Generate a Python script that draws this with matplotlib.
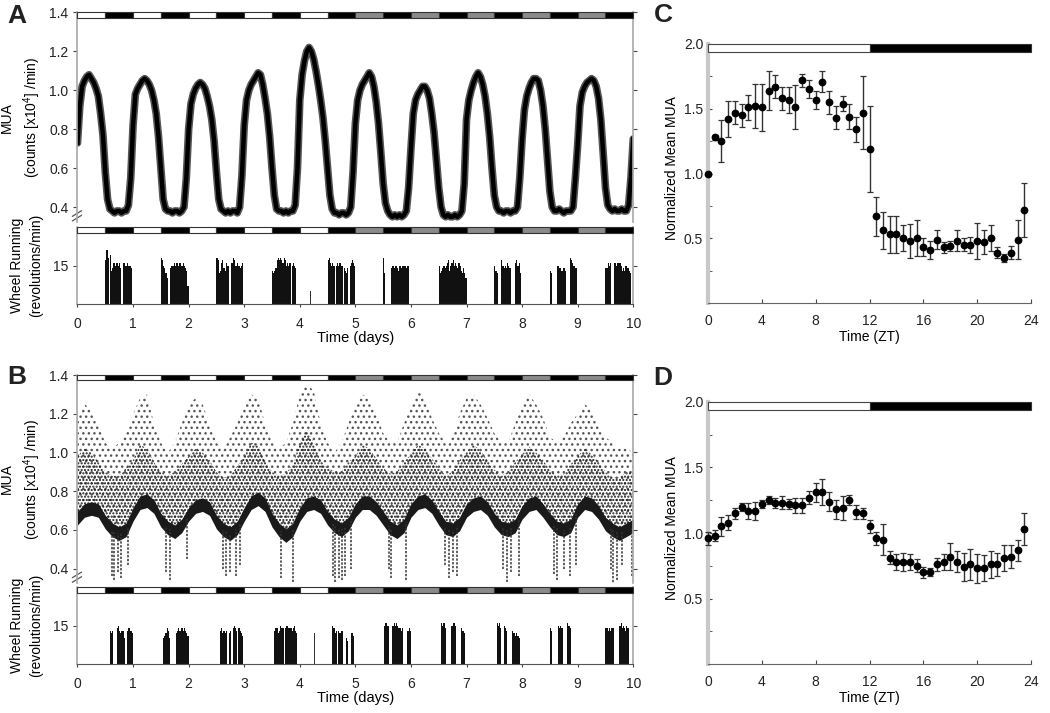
import numpy as np
import matplotlib.pyplot as plt
from matplotlib.patches import Rectangle

plt.rcParams['font.family'] = ['Liberation Sans', 'DejaVu Sans']
plt.rcParams['mathtext.default'] = 'regular'
plt.rcParams['text.color'] = '#222222'
plt.rcParams['xtick.color'] = '#444444'
plt.rcParams['ytick.color'] = '#444444'
plt.rcParams['xtick.labelcolor'] = '#222222'
plt.rcParams['ytick.labelcolor'] = '#222222'
plt.rcParams['hatch.linewidth'] = 1.0

# ---------------- data ----------------
# light phase colour of each day (white = LD, grey = subjective day in DD)
light_cols = ['white'] * 5 + ['#8a8a8a'] * 5

# A: hourly MUA (x10^4 counts/min), ZT0..ZT23 of each day
mua_a = [
    [0.73, 0.92, 1.02, 1.05, 1.07, 1.08, 1.06, 1.04, 1.01, 0.97, 0.88, 0.77, 0.58, 0.44, 0.39, 0.38, 0.37, 0.38, 0.38, 0.37, 0.38, 0.38, 0.41, 0.55],
    [0.82, 0.98, 1.01, 1.03, 1.05, 1.06, 1.05, 1.03, 1.00, 0.95, 0.88, 0.76, 0.60, 0.44, 0.39, 0.38, 0.38, 0.37, 0.38, 0.38, 0.37, 0.38, 0.40, 0.55],
    [0.80, 0.93, 0.98, 1.01, 1.03, 1.04, 1.03, 1.01, 0.97, 0.92, 0.85, 0.74, 0.58, 0.44, 0.39, 0.38, 0.37, 0.38, 0.37, 0.38, 0.38, 0.37, 0.40, 0.56],
    [0.82, 0.95, 1.00, 1.03, 1.05, 1.07, 1.09, 1.08, 1.03, 0.96, 0.88, 0.76, 0.60, 0.46, 0.39, 0.38, 0.38, 0.37, 0.38, 0.37, 0.38, 0.38, 0.41, 0.60],
    [0.95, 1.08, 1.15, 1.20, 1.22, 1.20, 1.16, 1.10, 1.03, 0.95, 0.86, 0.74, 0.60, 0.46, 0.39, 0.37, 0.37, 0.36, 0.37, 0.37, 0.36, 0.37, 0.40, 0.58],
    [0.83, 0.95, 1.00, 1.03, 1.05, 1.07, 1.09, 1.07, 1.02, 0.94, 0.83, 0.68, 0.52, 0.42, 0.38, 0.36, 0.35, 0.36, 0.35, 0.36, 0.35, 0.36, 0.38, 0.50],
    [0.70, 0.88, 0.95, 0.98, 1.00, 1.02, 1.02, 1.00, 0.96, 0.88, 0.78, 0.64, 0.50, 0.40, 0.36, 0.35, 0.36, 0.35, 0.35, 0.36, 0.35, 0.36, 0.38, 0.52],
    [0.85, 0.95, 1.00, 1.04, 1.07, 1.09, 1.07, 1.03, 0.97, 0.88, 0.76, 0.60, 0.46, 0.40, 0.38, 0.38, 0.37, 0.38, 0.38, 0.37, 0.38, 0.38, 0.40, 0.55],
    [0.75, 0.90, 0.97, 1.01, 1.04, 1.06, 1.06, 1.05, 1.00, 0.92, 0.80, 0.64, 0.48, 0.40, 0.38, 0.38, 0.39, 0.38, 0.37, 0.38, 0.38, 0.38, 0.40, 0.55],
    [0.72, 0.92, 0.99, 1.02, 1.04, 1.05, 1.06, 1.05, 1.02, 0.96, 0.85, 0.68, 0.50, 0.41, 0.39, 0.38, 0.39, 0.38, 0.38, 0.39, 0.38, 0.38, 0.41, 0.55],
]
mua_a_end = 0.75

# A: wheel running (rev/min), 30-min bins of each night (n+0.5 .. n+1)
wheel_a = [
    [17, 21, 18, 0, 19, 13, 14, 16, 15, 16, 16, 15, 16, 14, 0, 16, 16, 15, 15, 16, 15, 15, 14, 0],
    [18, 17, 15, 14, 12, 10, 0, 0, 14, 15, 15, 16, 15, 16, 16, 15, 16, 15, 15, 16, 15, 14, 13, 7],
    [18, 17, 12, 13, 16, 17, 14, 13, 16, 15, 15, 0, 0, 16, 18, 17, 15, 15, 16, 15, 14, 15, 16, 0],
    [13, 12, 13, 14, 17, 18, 17, 18, 17, 16, 18, 17, 15, 16, 15, 16, 0, 15, 16, 15, 14, 0, 0, 0],
    [17, 18, 16, 15, 16, 15, 0, 15, 16, 15, 16, 16, 15, 0, 14, 13, 12, 14, 0, 15, 16, 17, 16, 15],
    [18, 12, 0, 0, 0, 0, 0, 14, 15, 14, 15, 15, 14, 13, 15, 14, 15, 15, 15, 15, 14, 15, 0, 0],
    [15, 12, 13, 14, 15, 14, 15, 16, 17, 13, 15, 16, 17, 15, 16, 15, 14, 16, 15, 13, 12, 14, 12, 10],
    [15, 13, 12, 0, 0, 0, 17, 15, 14, 15, 14, 16, 15, 14, 0, 0, 0, 0, 16, 17, 15, 16, 12, 0],
    [13, 12, 0, 0, 0, 0, 15, 15, 14, 14, 13, 14, 14, 13, 0, 0, 0, 18, 17, 16, 15, 15, 14, 0],
    [14, 14, 16, 15, 16, 0, 0, 16, 16, 15, 16, 16, 16, 15, 13, 14, 13, 15, 15, 14, 13, 12, 0, 0],
]
wheel_a_extra_t = [3.05, 4.06, 4.19]
wheel_a_extra_h = [3, 4, 5]

# B: MUA cloud every 3 h (ZT0, 3, ... 21): dense band, denser cloud top, sparse top
mua_b_band = [
    [0.66, 0.70, 0.71, 0.70, 0.64, 0.60, 0.58, 0.60],
    [0.68, 0.74, 0.75, 0.72, 0.65, 0.61, 0.59, 0.62],
    [0.68, 0.72, 0.73, 0.71, 0.64, 0.60, 0.58, 0.61],
    [0.68, 0.74, 0.76, 0.73, 0.65, 0.60, 0.57, 0.60],
    [0.68, 0.73, 0.74, 0.72, 0.66, 0.62, 0.60, 0.63],
    [0.70, 0.74, 0.74, 0.71, 0.66, 0.61, 0.59, 0.62],
    [0.70, 0.74, 0.75, 0.72, 0.66, 0.61, 0.60, 0.63],
    [0.70, 0.73, 0.74, 0.71, 0.65, 0.61, 0.60, 0.62],
    [0.69, 0.73, 0.74, 0.70, 0.65, 0.61, 0.60, 0.62],
    [0.70, 0.74, 0.73, 0.69, 0.63, 0.60, 0.58, 0.60],
]
mua_b_band_end = 0.62
mua_b_mid = [
    [0.98, 1.02, 1.00, 0.95, 0.90, 0.88, 0.88, 0.92],
    [0.96, 1.04, 1.02, 0.95, 0.90, 0.88, 0.90, 0.94],
    [0.98, 1.02, 1.00, 0.96, 0.90, 0.87, 0.88, 0.93],
    [0.98, 1.05, 1.04, 0.96, 0.90, 0.88, 0.89, 0.94],
    [1.05, 1.12, 1.05, 0.96, 0.92, 0.90, 0.90, 0.95],
    [0.98, 1.04, 1.02, 0.97, 0.92, 0.89, 0.90, 0.95],
    [0.99, 1.04, 1.02, 0.97, 0.92, 0.88, 0.90, 0.96],
    [1.00, 1.04, 1.01, 0.96, 0.91, 0.88, 0.90, 0.95],
    [0.99, 1.03, 1.00, 0.96, 0.91, 0.88, 0.89, 0.94],
    [0.98, 1.02, 0.99, 0.95, 0.90, 0.87, 0.87, 0.90],
]
mua_b_mid_end = 0.9
mua_b_top = [
    [1.20, 1.25, 1.22, 1.15, 1.05, 1.02, 1.05, 1.10],
    [1.20, 1.28, 1.30, 1.15, 1.05, 1.00, 1.05, 1.15],
    [1.25, 1.28, 1.25, 1.15, 1.05, 1.02, 1.08, 1.15],
    [1.25, 1.30, 1.28, 1.15, 1.05, 1.02, 1.05, 1.15],
    [1.30, 1.35, 1.32, 1.15, 1.05, 1.00, 1.05, 1.15],
    [1.25, 1.30, 1.28, 1.20, 1.10, 1.05, 1.05, 1.15],
    [1.25, 1.32, 1.28, 1.18, 1.10, 1.05, 1.08, 1.20],
    [1.28, 1.30, 1.25, 1.18, 1.10, 1.05, 1.05, 1.15],
    [1.25, 1.30, 1.25, 1.18, 1.08, 1.05, 1.08, 1.15],
    [1.20, 1.25, 1.22, 1.15, 1.08, 1.05, 1.02, 1.02],
]
mua_b_top_end = 1.0
# B: downward streaks of MUA during running (time in days, lowest value)
dip_b_t = [0.62, 0.66, 0.72, 0.78, 0.90, 1.60, 1.67, 1.97, 2.62, 2.67, 2.75, 2.85, 2.92,
           3.66, 3.88, 4.60, 4.64, 4.70, 4.76, 4.82, 4.92, 5.60, 5.65, 5.91, 6.62, 6.68,
           6.75, 6.83, 7.66, 7.72, 7.80, 7.94, 8.58, 8.62, 8.76, 8.86, 8.97, 9.60, 9.64,
           9.70, 9.80, 9.98]
dip_b_low = [0.36, 0.34, 0.38, 0.35, 0.42, 0.38, 0.34, 0.45, 0.40, 0.36, 0.38, 0.36, 0.42,
             0.35, 0.33, 0.36, 0.33, 0.35, 0.34, 0.36, 0.40, 0.40, 0.35, 0.34, 0.42, 0.35,
             0.38, 0.36, 0.40, 0.33, 0.38, 0.36, 0.37, 0.34, 0.40, 0.36, 0.42, 0.40, 0.31,
             0.34, 0.42, 0.36]

# B: wheel running, 30-min bins of each night
wheel_b = [
    [0, 0, 0, 0, 13, 12, 13, 0, 0, 0, 14, 15, 13, 12, 13, 13, 10, 0, 0, 13, 14, 13, 13, 12],
    [0, 0, 10, 11, 12, 14, 13, 10, 0, 0, 0, 0, 0, 12, 13, 14, 13, 14, 14, 13, 14, 13, 12, 11],
    [0, 0, 0, 13, 14, 12, 13, 12, 13, 0, 0, 12, 13, 0, 14, 15, 14, 13, 0, 14, 13, 12, 11, 0],
    [0, 0, 13, 14, 14, 12, 13, 15, 14, 14, 0, 14, 15, 15, 14, 14, 14, 13, 14, 15, 13, 12, 0, 0],
    [0, 0, 0, 0, 15, 14, 12, 13, 0, 13, 12, 12, 13, 0, 0, 0, 10, 9, 0, 0, 12, 12, 11, 0],
    [0, 15, 16, 15, 15, 0, 0, 0, 15, 16, 15, 16, 15, 14, 14, 13, 14, 0, 0, 0, 0, 13, 14, 13],
    [0, 0, 16, 15, 16, 14, 0, 0, 0, 0, 0, 15, 16, 16, 15, 0, 0, 0, 0, 14, 13, 13, 12, 0],
    [0, 0, 16, 15, 16, 14, 0, 0, 15, 14, 13, 0, 0, 0, 0, 13, 12, 12, 11, 12, 11, 10, 0, 0],
    [14, 13, 0, 0, 0, 0, 0, 15, 14, 15, 14, 0, 0, 0, 0, 16, 15, 14, 0, 0, 0, 0, 0, 0],
    [14, 14, 13, 14, 13, 14, 14, 0, 0, 0, 0, 0, 15, 16, 14, 15, 14, 13, 15, 14, 0, 0, 0, 0],
]
wheel_b_extra_t = [4.27, 4.29, 4.31, 4.33]
wheel_b_extra_h = [12, 17, 18, 10]

# C / D: normalized mean MUA every 0.5 h, with SEM
zt = np.arange(0, 24, 0.5)
c_mean = [1.00, 1.28, 1.25, 1.42, 1.47, 1.45, 1.51, 1.52, 1.51, 1.64, 1.67, 1.58, 1.57, 1.51, 1.72, 1.65,
          1.57, 1.71, 1.55, 1.43, 1.54, 1.44, 1.34, 1.47, 1.19, 0.67, 0.56, 0.53, 0.53, 0.50, 0.48, 0.50,
          0.43, 0.41, 0.49, 0.43, 0.44, 0.48, 0.45, 0.45, 0.48, 0.47, 0.50, 0.39, 0.35, 0.39, 0.49, 0.72]
c_err = [0.00, 0.02, 0.16, 0.14, 0.09, 0.09, 0.10, 0.17, 0.18, 0.15, 0.09, 0.09, 0.10, 0.17, 0.05, 0.07,
         0.07, 0.08, 0.09, 0.09, 0.06, 0.10, 0.10, 0.28, 0.33, 0.15, 0.14, 0.14, 0.14, 0.10, 0.13, 0.14,
         0.07, 0.07, 0.07, 0.04, 0.04, 0.08, 0.05, 0.06, 0.14, 0.09, 0.10, 0.04, 0.03, 0.05, 0.15, 0.21]
d_mean = [0.96, 0.98, 1.05, 1.08, 1.15, 1.20, 1.17, 1.17, 1.22, 1.25, 1.23, 1.23, 1.22, 1.21, 1.21, 1.27,
          1.31, 1.31, 1.24, 1.18, 1.19, 1.25, 1.16, 1.15, 1.05, 0.96, 0.95, 0.81, 0.78, 0.78, 0.78, 0.75,
          0.70, 0.70, 0.76, 0.78, 0.82, 0.78, 0.74, 0.76, 0.73, 0.73, 0.76, 0.76, 0.81, 0.82, 0.87, 1.03]
d_err = [0.05, 0.04, 0.07, 0.06, 0.04, 0.03, 0.06, 0.07, 0.03, 0.03, 0.04, 0.05, 0.04, 0.06, 0.06, 0.05,
         0.07, 0.10, 0.07, 0.07, 0.09, 0.04, 0.05, 0.04, 0.05, 0.05, 0.12, 0.05, 0.06, 0.07, 0.06, 0.05,
         0.04, 0.03, 0.05, 0.06, 0.10, 0.08, 0.11, 0.12, 0.11, 0.10, 0.10, 0.09, 0.10, 0.09, 0.08, 0.12]

# ---------------- drawing ----------------
fig = plt.figure(figsize=(10.5, 7.13), dpi=100)
GREY_SPINE = '#a8a8a8'
MUA_LIM = (0.325, 1.4)
MUA_BAR = (1.372, 1.4)
WHEEL_LIM = (0, 30)
WHEEL_BAR = (27.6, 30)
LABEL_X = -0.062


def ld_bar(ax, y0, y1):
    for n in range(10):
        ax.add_patch(Rectangle((n, y0), 0.5, y1 - y0, fc=light_cols[n], ec='#333333', lw=0.8, clip_on=False, zorder=5))
        ax.add_patch(Rectangle((n + 0.5, y0), 0.5, y1 - y0, fc='black', ec='#333333', lw=0.8, clip_on=False, zorder=5))


def style_mua(ax, letter, ly):
    ax.set_xlim(0, 10)
    ax.set_ylim(*MUA_LIM)
    ax.set_yticks([0.4, 0.6, 0.8, 1.0, 1.2, 1.4])
    ax.set_yticklabels(['0.4', '0.6', '0.8', '1.0', '1.2', '1.4'], fontsize=10)
    ax.tick_params(axis='y', which='both', left=True, right=True, direction='out', length=3)
    ax.set_xticks([])
    for s in ['top', 'bottom']:
        ax.spines[s].set_visible(False)
    for s in ['left', 'right']:
        ax.spines[s].set_color(GREY_SPINE)
        ax.spines[s].set_linewidth(1.2)
    ld_bar(ax, *MUA_BAR)
    ax.set_ylabel('MUA\n(counts [x10$^4$] /min)', fontsize=10, linespacing=1.5)
    ax.yaxis.set_label_coords(LABEL_X, 0.5)
    # axis break marks
    for dy in [0.0, 0.022]:
        ax.plot([-0.009, 0.007], [0.004 + dy, 0.030 + dy], transform=ax.transAxes,
                color='#555555', lw=0.9, clip_on=False)
    fig.text(17 / 1050, ly, letter, fontsize=19, fontweight='bold', ha='center', va='center')


def style_wheel(ax, bins, extra_t, extra_h):
    for n in range(10):
        t0 = n + 0.5 + np.arange(24) / 48.0
        ax.bar(t0, bins[n], width=1 / 48.0, align='edge', color='#111111', lw=0)
    ax.bar(extra_t, extra_h, width=1 / 80.0, color='#333333', lw=0)
    ax.set_xlim(0, 10)
    ax.set_ylim(*WHEEL_LIM)
    ax.set_yticks([15])
    ax.set_yticklabels(['15'], fontsize=10)
    ax.tick_params(axis='y', left=True, right=True, direction='out', length=3)
    ax.set_xticks(range(11))
    ax.set_xticklabels([str(i) for i in range(11)], fontsize=10)
    ax.tick_params(axis='x', direction='out', length=2.5, pad=7)
    ax.spines['top'].set_visible(False)
    for s in ['left', 'right']:
        ax.spines[s].set_color(GREY_SPINE)
        ax.spines[s].set_linewidth(1.2)
    ax.spines['bottom'].set_color('#555555')
    ld_bar(ax, *WHEEL_BAR)
    ax.set_ylabel('Wheel Running\n(revolutions/min)', fontsize=10, linespacing=1.5)
    ax.yaxis.set_label_coords(LABEL_X, 0.5)
    ax.set_xlabel('Time (days)', fontsize=10.5, labelpad=0)


# ---- panel A ----
axA = fig.add_axes([0.0738, 0.6891, 0.5293, 0.2934])
a_t = np.arange(241) / 24.0
a_v = np.concatenate([np.concatenate(mua_a), [mua_a_end]])
axA.plot(a_t, a_v, color='#555555', lw=5.5, solid_capstyle='round')
axA.plot(a_t, a_v, color='black', lw=3.2)
style_mua(axA, 'A', 1 - 16 / 713)

axAw = fig.add_axes([0.0738, 0.5736, 0.5293, 0.1080])
style_wheel(axAw, wheel_a, wheel_a_extra_t, wheel_a_extra_h)

# ---- panel B ----
axB = fig.add_axes([0.0738, 0.1823, 0.5293, 0.2917])
b_t = np.arange(0, 241, 3) / 24.0
b_band = np.concatenate([np.concatenate(mua_b_band), [mua_b_band_end]])
b_mid = np.concatenate([np.concatenate(mua_b_mid), [mua_b_mid_end]])
b_top = np.concatenate([np.concatenate(mua_b_top), [mua_b_top_end]])
axB.fill_between(b_t, b_band, b_top, facecolor='none', edgecolor='#555555', hatch='...', lw=0)
axB.fill_between(b_t, b_band, b_mid, facecolor='none', edgecolor='#1a1a1a', hatch='.....', lw=0)
axB.vlines(dip_b_t, dip_b_low, np.interp(dip_b_t, b_t, b_band), color='#333333', lw=1.1,
           linestyles=(0, (1.5, 1)))
axB.fill_between(b_t, b_band - 0.035, b_band + 0.035, color='#1a1a1a', lw=0)
style_mua(axB, 'B', 1 - 377 / 713)

axBw = fig.add_axes([0.0738, 0.0687, 0.5293, 0.1080])
style_wheel(axBw, wheel_b, wheel_b_extra_t, wheel_b_extra_h)


# ---- panels C and D ----
def style_mean(ax, mean, err, letter, ly):
    ax.errorbar(zt, mean, yerr=err, fmt='o', color='black', ms=4.6, ecolor='#333333',
                elinewidth=1.0, capsize=2.5, capthick=0.9, clip_on=False, zorder=3)
    ax.set_xlim(0, 24)
    ax.set_ylim(0, 2.0)
    ax.add_patch(Rectangle((0, 1.94), 12, 0.06, fc='white', ec='#444444', lw=0.8, clip_on=False, zorder=5))
    ax.add_patch(Rectangle((12, 1.94), 12, 0.06, fc='black', ec='#333333', lw=0.8, clip_on=False, zorder=5))
    ax.set_yticks([0.5, 1.0, 1.5, 2.0])
    ax.set_yticklabels(['0.5', '1.0', '1.5', '2.0'], fontsize=10)
    ax.set_yticks([0.25, 0.75, 1.25, 1.75], minor=True)
    ax.tick_params(axis='y', which='both', direction='in', length=3)
    ax.set_xticks([0, 4, 8, 12, 16, 20, 24])
    ax.set_xticklabels(['0', '4', '8', '12', '16', '20', '24'], fontsize=10)
    ax.tick_params(axis='x', direction='in', length=3, pad=8)
    for s in ['top', 'right']:
        ax.spines[s].set_visible(False)
    ax.spines['left'].set_color('#c8c8c8')
    ax.spines['left'].set_linewidth(3)
    ax.spines['bottom'].set_color('#666666')
    ax.set_ylabel('Normalized Mean MUA', fontsize=10)
    ax.yaxis.set_label_coords(-0.09, 0.52)
    ax.set_xlabel('Time (ZT)', fontsize=10, labelpad=1)
    fig.text(663 / 1050, ly, letter, fontsize=19, fontweight='bold', ha='center', va='center')


axC = fig.add_axes([0.6743, 0.5750, 0.3076, 0.3633])
style_mean(axC, c_mean, c_err, 'C', 1 - 15 / 713)
axD = fig.add_axes([0.6743, 0.0687, 0.3076, 0.3675])
style_mean(axD, d_mean, d_err, 'D', 1 - 378 / 713)

fig.savefig('out.png', dpi=100)
